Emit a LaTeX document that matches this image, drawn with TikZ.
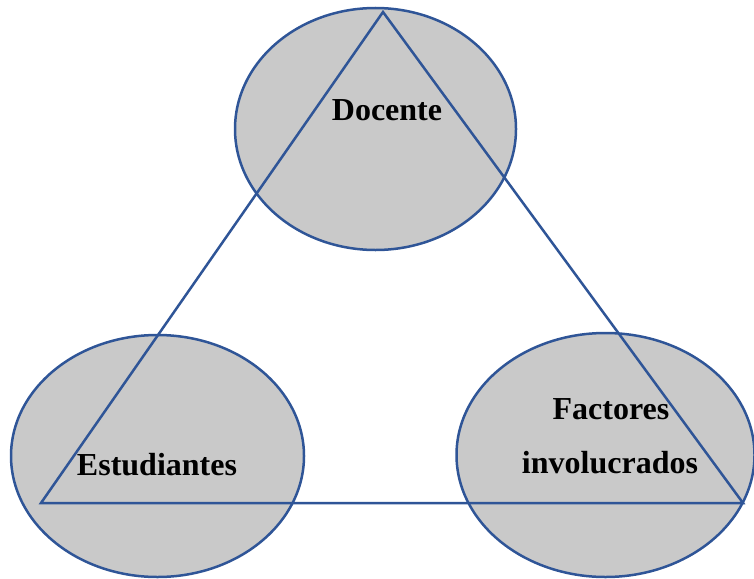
\documentclass[tikz,border=0pt]{standalone}
\usepackage{fontspec}
\setmainfont{Liberation Serif}
\usepackage{xcolor}
\usetikzlibrary{shapes.geometric, positioning}
\definecolor{rimblue}{HTML}{2F5597}
\definecolor{blobgray}{HTML}{C9C9C9}

\begin{document}
\begin{tikzpicture}[x=1pt, y=-1pt,
  blob/.style={ellipse, draw=rimblue, fill=blobgray, line width=2.5pt, inner sep=0pt},
  lbl/.style={font=\fontsize{32}{38}\selectfont\bfseries, anchor=base, inner sep=0pt}]
\useasboundingbox (0,0) rectangle (754,578);
\node[blob, minimum width=281, minimum height=242] (docente) at (375.5,129) {};
\node[blob, minimum width=293, minimum height=242] (estudiantes) at (157.5,456) {};
\node[blob, minimum width=298, minimum height=244] (factores) at (605.5,455) {};
\coordinate (apex) at (383,12);
\coordinate (esq izq) at (41,503);
\coordinate (esq der) at (743,503);
\draw[rimblue, line width=2.5pt] (apex) -- (esq izq) -- (esq der) -- cycle;
\node[lbl] (docente txt) at (387,120) {Docente};
\node[lbl] (estudiantes txt) at (157,475) {Estudiantes};
\node[lbl] (factores txt) at (611,419) {Factores};
\node[lbl] (involucrados txt) at (610,473) {involucrados};
\end{tikzpicture}
\end{document}
